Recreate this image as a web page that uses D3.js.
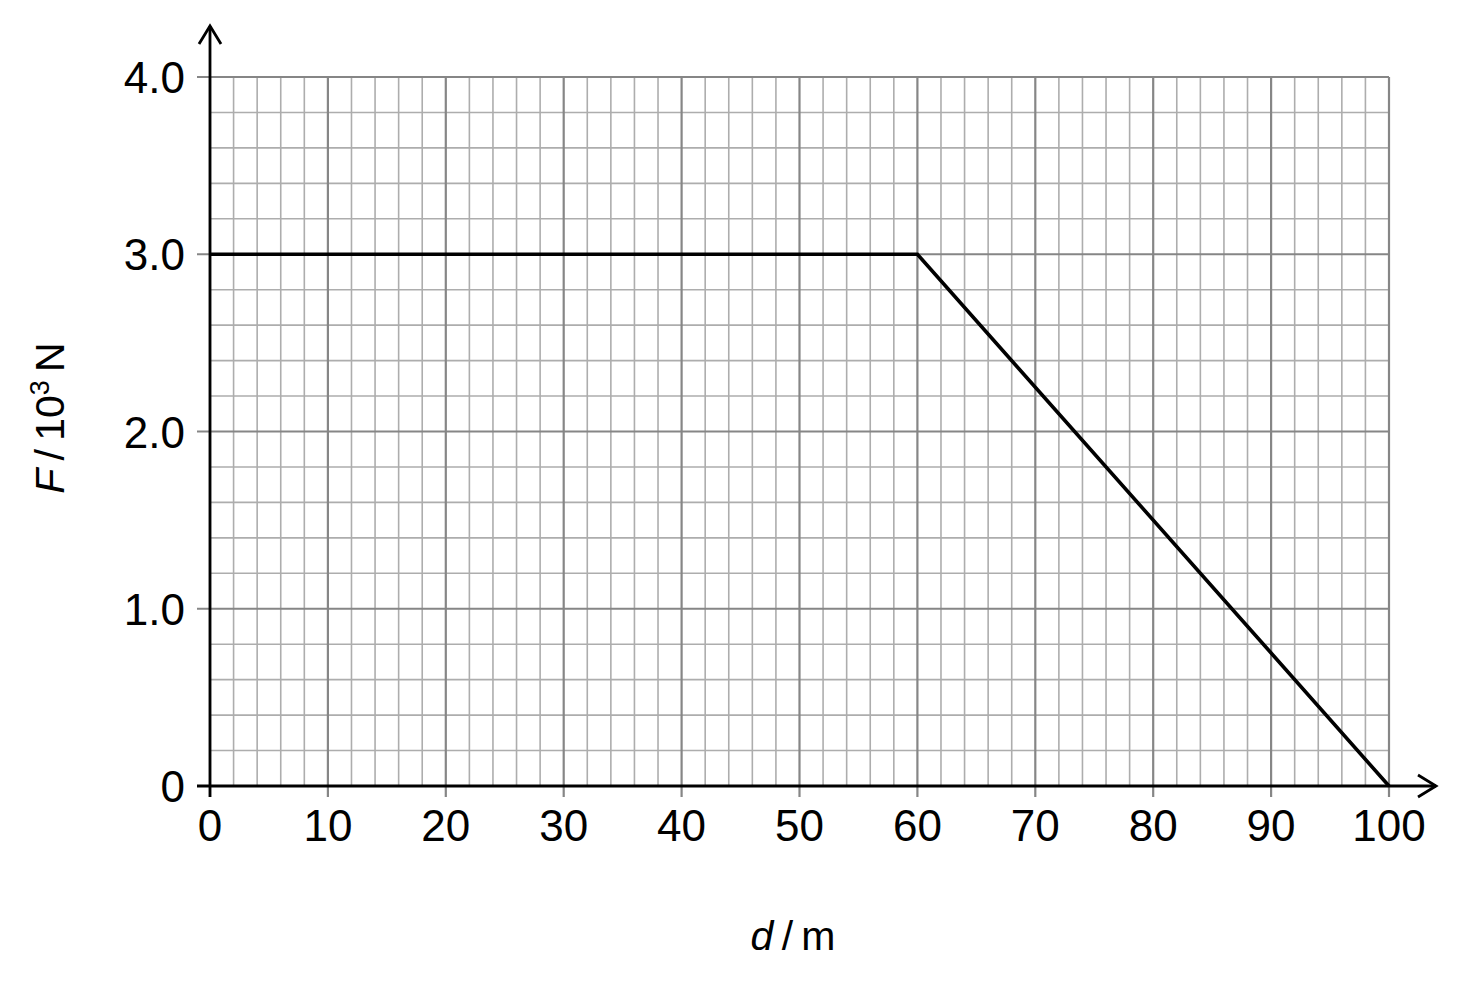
<!DOCTYPE html>
<html>
<head>
<meta charset="utf-8">
<script src="https://cdn.jsdelivr.net/npm/d3@7"></script>
<style>
  html, body { margin: 0; padding: 0; background: #fff; }
  svg text { font-family: "Liberation Sans", Arial, sans-serif; fill: #000; }
</style>
</head>
<body>
<svg id="chart" width="1467" height="982"></svg>
<script>
// distance d (m) and force F (10^3 N)
const dValues = [0, 60, 100];
const fValues = [3.0, 3.0, 0];
const xTicks = [0, 10, 20, 30, 40, 50, 60, 70, 80, 90, 100];
const yTicks = [0, 1, 2, 3, 4];
const yTickLabels = ['0', '1.0', '2.0', '3.0', '4.0'];

const svg = d3.select('#chart');
const x = d3.scaleLinear().domain([0, 100]).range([210, 1389]);
const y = d3.scaleLinear().domain([0, 4]).range([786, 77]);

const MINOR = '#adadad', MAJOR = '#868686';

// minor grid: every 2 m, every 0.2 kN
const xMinor = d3.range(0, 101, 2).filter(v => v % 10 !== 0);
const yMinor = d3.range(1, 20).map(i => i / 5).filter(v => Math.abs(v - Math.round(v)) > 1e-6);

const grid = svg.append('g');
grid.selectAll('line.xm').data(xMinor).join('line')
  .attr('x1', d => x(d)).attr('x2', d => x(d))
  .attr('y1', y(0)).attr('y2', y(4))
  .attr('stroke', MINOR).attr('stroke-width', 1.6);
grid.selectAll('line.ym').data(yMinor).join('line')
  .attr('y1', d => y(d)).attr('y2', d => y(d))
  .attr('x1', x(0)).attr('x2', x(100))
  .attr('stroke', MINOR).attr('stroke-width', 1.6);

// major grid, with ticks running past the axes
grid.selectAll('line.xM').data(xTicks).join('line')
  .attr('x1', d => x(d)).attr('x2', d => x(d))
  .attr('y1', y(0) + 11).attr('y2', y(4))
  .attr('stroke', MAJOR).attr('stroke-width', 2.2);
grid.selectAll('line.yM').data(yTicks).join('line')
  .attr('y1', d => y(d)).attr('y2', d => y(d))
  .attr('x1', x(0) - 13).attr('x2', x(100))
  .attr('stroke', MAJOR).attr('stroke-width', 2.2);

// axes with open arrowheads
const ax = svg.append('g').attr('stroke', '#000').attr('stroke-width', 2.8).attr('fill', 'none');
ax.append('line').attr('x1', x(0)).attr('x2', x(0)).attr('y1', y(0) + 11).attr('y2', 26);
ax.append('path').attr('d', `M${x(0) - 11},${44} L${x(0)},${26} L${x(0) + 11},${44}`);
ax.append('line').attr('x1', x(0) - 13).attr('x2', 1436).attr('y1', y(0)).attr('y2', y(0));
ax.append('path').attr('d', `M1418,${y(0) - 11} L1436,${y(0)} L1418,${y(0) + 11}`);

// data line
svg.append('path')
  .datum(dValues.map((d, i) => [d, fValues[i]]))
  .attr('d', d3.line().x(d => x(d[0])).y(d => y(d[1])))
  .attr('fill', 'none').attr('stroke', '#000').attr('stroke-width', 3.6);

// tick labels
svg.selectAll('text.xt').data(xTicks).join('text')
  .attr('x', d => x(d)).attr('y', 841)
  .attr('text-anchor', 'middle').attr('font-size', 44)
  .text(d => d);
svg.selectAll('text.yt').data(yTicks).join('text')
  .attr('x', 185).attr('y', d => y(d) + 16)
  .attr('text-anchor', 'end').attr('font-size', 44)
  .text((d, i) => yTickLabels[i]);

// axis titles
const xl = svg.append('text').attr('x', 793).attr('y', 950)
  .attr('text-anchor', 'middle').attr('font-size', 41);
xl.append('tspan').attr('font-style', 'italic').text('d');
xl.append('tspan').text('\u2009/\u2009m');

const yl = svg.append('text')
  .attr('transform', 'translate(64,418) rotate(-90)')
  .attr('text-anchor', 'middle').attr('font-size', 41);
yl.append('tspan').attr('font-style', 'italic').text('F');
yl.append('tspan').text('\u2009/\u200910');
yl.append('tspan').attr('font-size', 27).attr('dy', -15).text('3');
yl.append('tspan').attr('dy', 15).text('\u2009N');
</script>
</body>
</html>
